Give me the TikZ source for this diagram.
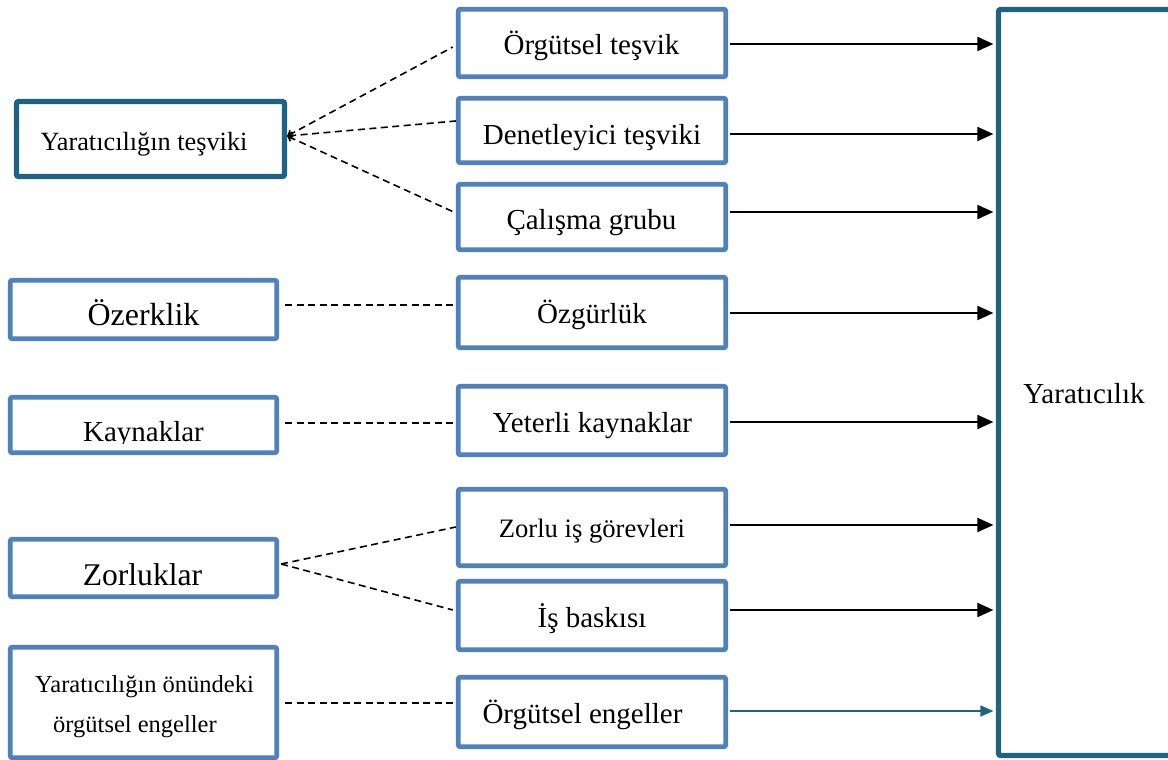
\documentclass[tikz,border=0pt]{standalone}
\usepackage{fontspec}
\setmainfont{Liberation Serif}
\usetikzlibrary{calc,arrows.meta}
\definecolor{mblue}{RGB}{79,129,189}
\definecolor{tealdark}{RGB}{31,99,132}
\begin{document}
\begin{tikzpicture}[x=1pt,y=-1pt,
  mbox/.style={draw=mblue,line width=4.8pt,rounded corners=2pt,inner sep=0pt,fill=white},
  tbox/.style={draw=tealdark,line width=5.2pt,rounded corners=2pt,inner sep=0pt,fill=white},
  lbl/.style={anchor=base,inner sep=0pt},
  arr/.style={line width=2pt,-{Triangle[length=16pt,width=14pt]},shorten >=2.5pt},
  tarr/.style={draw=tealdark,line width=1.6pt,-{Triangle[length=13pt,width=11pt]},shorten >=2.5pt},
  dsh/.style={line width=1.6pt,dash pattern=on 7pt off 4.5pt},
  barb/.style={{Straight Barb[length=4pt,width=7pt]}-},
]
\useasboundingbox (0,0) rectangle (1168,760);

% right box
\node[tbox,minimum width=175pt,minimum height=746pt] (R) at (1086,382.5) {};
\node[lbl,font=\fontsize{29}{34}\selectfont] at (1084,403) {Yaratıcılık};

% middle boxes
\node[mbox,minimum width=267.5pt,minimum height=67.5pt] (b1) at (592,43) {};
\node[mbox,minimum width=267.5pt,minimum height=64.5pt] (b2) at (592,130.5) {};
\node[mbox,minimum width=267.5pt,minimum height=65.5pt] (b3) at (592,217) {};
\node[mbox,minimum width=267.5pt,minimum height=70.5pt] (b4) at (592,312.5) {};
\node[mbox,minimum width=267.5pt,minimum height=68.5pt] (b5) at (592,420.5) {};
\node[mbox,minimum width=267.5pt,minimum height=76.5pt] (b6) at (592,527.5) {};
\node[mbox,minimum width=267.5pt,minimum height=68.5pt] (b7) at (592,615.5) {};
\node[mbox,minimum width=267.5pt,minimum height=69.5pt] (b8) at (592,712) {};

\node[lbl,font=\fontsize{29}{34}\selectfont] at (591.5,55) {Örgütsel teşvik};
\node[lbl,font=\fontsize{29}{34}\selectfont] at (592,144) {Denetleyici teşviki};
\node[lbl,font=\fontsize{29}{34}\selectfont] at (591.5,229) {Çalışma grubu};
\node[lbl,font=\fontsize{29}{34}\selectfont] at (592,323) {Özgürlük};
\node[lbl,font=\fontsize{29}{34}\selectfont] at (592.5,432) {Yeterli kaynaklar};
\node[lbl,font=\fontsize{26.6}{32}\selectfont] at (592,537) {Zorlu iş görevleri};
\node[lbl,font=\fontsize{29}{34}\selectfont] at (592,627) {İş baskısı};
\node[lbl,font=\fontsize{29}{34}\selectfont] at (582.5,723) {Örgütsel engeller};

% left boxes
\node[tbox,minimum width=268pt,minimum height=75pt] (l1) at (150.5,139) {};
\node[mbox,minimum width=266.5pt,minimum height=58.5pt] (l2) at (143.5,309.5) {};
\node[mbox,minimum width=266.5pt,minimum height=55.5pt] (l3) at (143.5,425) {};
\node[mbox,minimum width=266.5pt,minimum height=57.5pt] (l4) at (143.5,568) {};
\node[mbox,minimum width=266.5pt,minimum height=110.5pt] (l5) at (143.5,702.5) {};

\node[lbl,font=\fontsize{26.3}{32}\selectfont] at (144,150) {Yaratıcılığın teşviki};
\node[lbl,font=\fontsize{32}{38}\selectfont] at (143.5,325) {Özerklik};
\begin{scope}
  \clip (10,397) rectangle (277,443);
  \node[lbl,font=\fontsize{29}{34}\selectfont] at (143.5,441) {Kaynaklar};
\end{scope}
\node[lbl,font=\fontsize{31.6}{38}\selectfont] at (142.5,585) {Zorluklar};
\node[lbl,font=\fontsize{24.5}{30}\selectfont] at (144.5,692) {Yaratıcılığın önündeki};
\node[lbl,font=\fontsize{24.5}{30}\selectfont] at (135,732) {örgütsel engeller};

% dashed connectors
\coordinate (c1) at ($(l1.east)+(0,-3)$);
\draw[dsh,barb] (c1) -- ($(b1.west)+(-3,4)$);
\draw[dsh,barb] (c1) -- ($(b2.west)+(0,-9.5)$);
\draw[dsh,barb] (c1) -- ($(b3.west)+(0,-4)$);
\draw[dsh] ($(l2.east)+(6,-4.5)$) -- ($(b4.west)+(-2,-7.5)$);
\draw[dsh] ($(l3.east)+(6,-2)$) -- ($(b5.west)+(-2,2.5)$);
\coordinate (c4) at ($(l4.east)+(2,-4)$);
\draw[dsh] (c4) -- ($(b6.west)+(0,-0.5)$);
\draw[dsh] (c4) -- ($(b7.west)+(-3,-5.5)$);
\draw[dsh] ($(l5.east)+(6,0.5)$) -- ($(b8.west)+(-2,-9)$);

% arrows to Yaratıcılık
\coordinate (s1) at ($(b1.east)+(2,1)$);
\coordinate (s2) at ($(b2.east)+(2,3.5)$);
\coordinate (s3) at ($(b3.east)+(2,-5)$);
\coordinate (s4) at ($(b4.east)+(2,0.5)$);
\coordinate (s5) at ($(b5.east)+(2,1.5)$);
\coordinate (s6) at ($(b6.east)+(2,-2.5)$);
\coordinate (s7) at ($(b7.east)+(2,-5.5)$);
\coordinate (s8) at ($(b8.east)+(2,-1)$);
\foreach \s in {s1,s2,s3,s4,s5,s6,s7}{
  \draw[arr] (\s) -- (\s -| R.west);
}
\draw[tarr] (s8) -- (s8 -| R.west);
\end{tikzpicture}
\end{document}
